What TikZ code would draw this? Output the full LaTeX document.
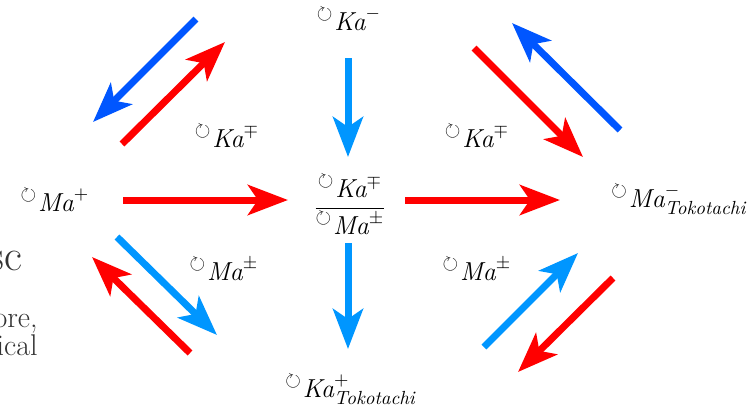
\documentclass[tikz,border=0pt]{standalone}
\usepackage{amsmath}
\usepackage{amssymb}
\usepackage{fontspec}
\usetikzlibrary{arrows.meta}
\DeclareMathSizes{13}{13}{9.5}{7}
\definecolor{redarr}{RGB}{255,0,0}
\definecolor{bluearr}{RGB}{0,86,255}
\definecolor{skyarr}{RGB}{0,150,255}
\newcommand{\cyc}{\raisebox{5.5pt}{\fontsize{10}{10}\selectfont$\circlearrowright$}\kern1pt}
\tikzset{
  flow/.style={line width=3.5pt, -{Stealth[length=20pt,width=15pt,inset=5pt]}},
  lbl/.style={font=\fontsize{13}{16}\selectfont, inner sep=0pt},
  frag/.style={anchor=base east, inner sep=0pt, text=black!80},
}
\begin{document}
\begin{tikzpicture}[x=0.5pt, y=-0.5pt]
    \useasboundingbox (0,0) rectangle (756,413);

    % labels
    \node[lbl, anchor=base] (kaTop) at (349,30) {\cyc$\textit{Ka}^{-}$};
    \node[lbl, anchor=base] (kaLeft) at (227,147) {\cyc$\textit{Ka}^{\mp}$};
    \node[lbl, anchor=base] (kaRight) at (477,147) {\cyc$\textit{Ka}^{\mp}$};
    \node[lbl, anchor=base] (maLeft) at (55,211) {\cyc$\textit{Ma}^{+}$};
    \node[lbl, anchor=base west] (maRight) at (611,207) {\cyc$\textit{Ma}^{-}_{\textit{Tokotachi}}$};
    \node[lbl] (center) at (350,205) {$\dfrac{\cyc\textit{Ka}^{\mp}}{\cyc\textit{Ma}^{\pm}}$};
    \node[lbl, anchor=base] (maLowLeft) at (224,280) {\cyc$\textit{Ma}^{\pm}$};
    \node[lbl, anchor=base] (maLowRight) at (477,280) {\cyc$\textit{Ma}^{\pm}$};
    \node[lbl, anchor=base west] (kaBottom) at (285,397) {\cyc$\textit{Ka}^{+}_{\textit{Tokotachi}}$};

    % cut-off text at the left border
    \node[frag, font=\fontsize{22}{24}\selectfont] (fragA) at (23,270) {sc};
    \node[frag, font=\fontsize{15}{17}\selectfont] (fragB) at (38,327) {ore,};
    \node[frag, font=\fontsize{15}{17}\selectfont] (fragC) at (38,355) {ical};

    % arrow ends
    \coordinate (ulB1) at (196,19);  \coordinate (ulB2) at (93,122);
    \coordinate (ulR1) at (122,144); \coordinate (ulR2) at (225,42);
    \coordinate (upS1) at (348,58);  \coordinate (upS2) at (348,157);
    \coordinate (hL1) at (123,200);  \coordinate (hL2) at (288,200);
    \coordinate (hR1) at (405,200);  \coordinate (hR2) at (560,200);
    \coordinate (urR1) at (474,48);  \coordinate (urR2) at (583,157);
    \coordinate (urB1) at (620,130); \coordinate (urB2) at (512,23);
    \coordinate (dnS1) at (348,243); \coordinate (dnS2) at (348,349);
    \coordinate (llS1) at (117,237); \coordinate (llS2) at (217,335);
    \coordinate (llR1) at (190,353); \coordinate (llR2) at (92,257);
    \coordinate (lrS1) at (484,347); \coordinate (lrS2) at (578,253);
    \coordinate (lrR1) at (613,278); \coordinate (lrR2) at (518,372);

    % upper pairs
    \draw[flow, bluearr] (ulB1) -- (ulB2);
    \draw[flow, redarr] (ulR1) -- (ulR2);
    \draw[flow, redarr] (urR1) -- (urR2);
    \draw[flow, bluearr] (urB1) -- (urB2);

    % middle
    \draw[flow, skyarr] (upS1) -- (upS2);
    \draw[flow, redarr] (hL1) -- (hL2);
    \draw[flow, redarr] (hR1) -- (hR2);
    \draw[flow, skyarr] (dnS1) -- (dnS2);

    % lower pairs
    \draw[flow, skyarr] (llS1) -- (llS2);
    \draw[flow, redarr] (llR1) -- (llR2);
    \draw[flow, skyarr] (lrS1) -- (lrS2);
    \draw[flow, redarr] (lrR1) -- (lrR2);
\end{tikzpicture}
\end{document}
